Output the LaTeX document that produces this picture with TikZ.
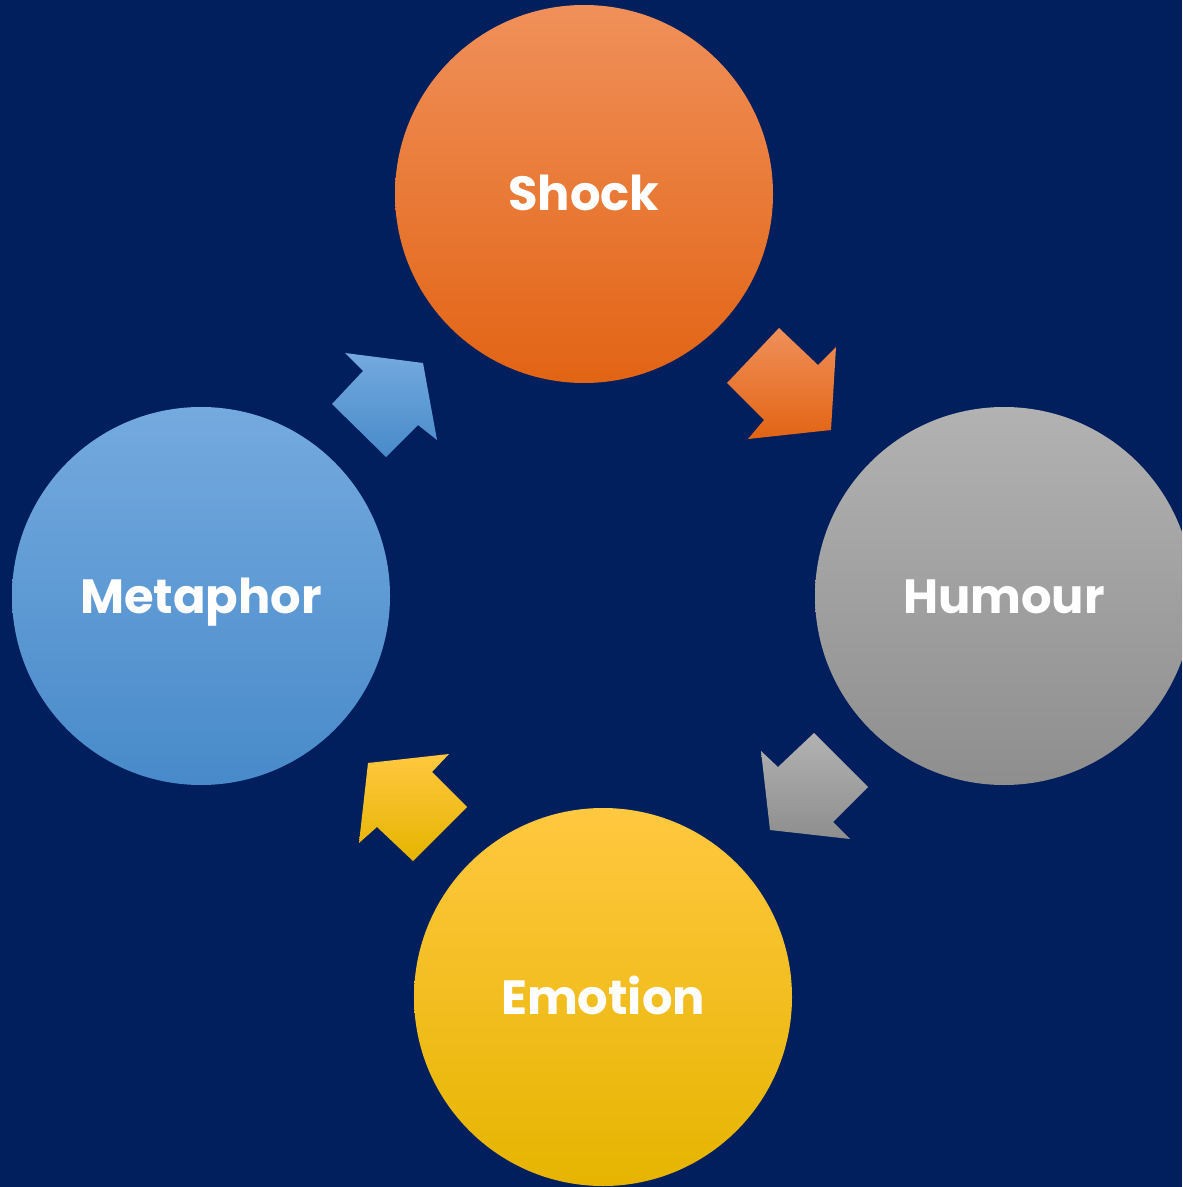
\documentclass[tikz,border=0pt]{standalone}
\usepackage{fontspec}
\setmainfont{Poppins}
\definecolor{bg}{RGB}{0,31,92}
\definecolor{shockT}{RGB}{240,144,90}
\definecolor{shockM}{RGB}{244,122,34}
\definecolor{shockB}{RGB}{226,100,20}
\definecolor{humT}{RGB}{178,178,178}
\definecolor{humM}{RGB}{164,164,164}
\definecolor{humB}{RGB}{142,142,142}
\definecolor{emoT}{RGB}{255,200,64}
\definecolor{emoM}{RGB}{255,200,0}
\definecolor{emoB}{RGB}{230,180,0}
\definecolor{metT}{RGB}{116,170,222}
\definecolor{metM}{RGB}{90,156,220}
\definecolor{metB}{RGB}{72,138,202}
\tikzset{
  ball/.style={circle, minimum size=378pt*0.5, inner sep=0pt, text=white,
    font=\fontsize{24}{28}\selectfont\bfseries, text height=17pt, text depth=0pt},
  shockball/.style={ball, top color=shockT, middle color=shockM, bottom color=shockB},
  humball/.style={ball, top color=humT, middle color=humM, bottom color=humB},
  emoball/.style={ball, top color=emoT, middle color=emoM, bottom color=emoB},
  metball/.style={ball, top color=metT, middle color=metM, bottom color=metB},
}
\begin{document}
\begin{tikzpicture}[x=0.5pt,y=-0.5pt]
\useasboundingbox (0,0) rectangle (1182,1187);
\fill[bg] (0,0) rectangle (1182,1187);
\begin{scope}
\clip (0,0) rectangle (1182,1187);
\node[shockball] (shock) at (584,194) {Shock};
\node[humball] (humour) at (1004,596) {Humour};
\node[emoball] (emotion) at (603,997) {Emotion};
\node[metball] (metaphor) at (201,596) {Metaphor};
\end{scope}
% arrows
\shade[top color=shockT, middle color=shockM, bottom color=shockB]
  (779,328) -- (818,365) -- (836,347) -- (831,430) -- (748,439) -- (764,420) -- (727,383) -- cycle;
\shade[top color=humT, bottom color=humB]
  (814,733) -- (868,787) -- (833,822) -- (850,839) -- (770,830) -- (761,751) -- (778,767) -- cycle;
\shade[top color=emoT, middle color=emoM, bottom color=emoB]
  (449,754) -- (432,772) -- (467,807) -- (413,861) -- (377,827) -- (359,843) -- (368,763) -- cycle;
\shade[top color=metT, bottom color=metB]
  (345,353) -- (423,363) -- (437,440) -- (418,425) -- (386,457) -- (332,404) -- (363,371) -- cycle;
\end{tikzpicture}
\end{document}
